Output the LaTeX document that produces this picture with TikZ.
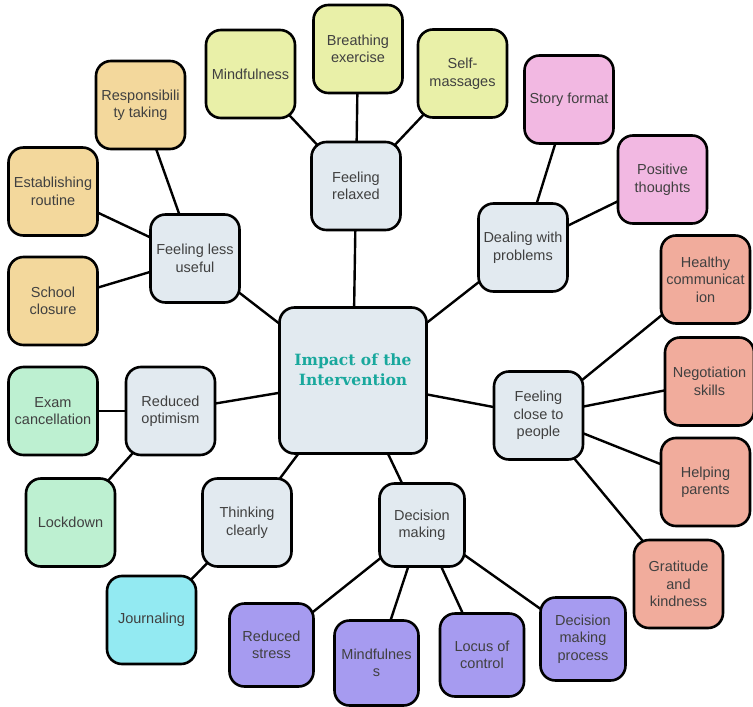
\documentclass[tikz,border=0pt]{standalone}
\usepackage{fontspec}
\setmainfont{Liberation Sans}
\newfontfamily\titlefont{DejaVu Serif}
\usetikzlibrary{backgrounds}
\definecolor{cblue}{HTML}{E2EAF0}
\definecolor{cyel}{HTML}{E9F0A8}
\definecolor{ctan}{HTML}{F3D89C}
\definecolor{cpink}{HTML}{F2B8E2}
\definecolor{csal}{HTML}{F1AC9C}
\definecolor{cgreen}{HTML}{BDF0D1}
\definecolor{ccyan}{HTML}{93EAF2}
\definecolor{cpurp}{HTML}{A69BF0}
\definecolor{cteal}{HTML}{19A89D}
\definecolor{ctext}{HTML}{404040}
\tikzset{
  box/.style={draw=black, line width=2.6pt, rounded corners=15pt,
    minimum width=89pt, minimum height=88pt, inner sep=2pt, align=center,
    text=ctext, font=\fontsize{14.5pt}{17.5pt}\selectfont},
  hub/.style={box, fill=cblue},
  link/.style={draw=black, line width=2.4pt}
}
\begin{document}
\begin{tikzpicture}[x=1pt,y=-1pt]
\useasboundingbox (0,0) rectangle (753,707);
% central
\node[box, fill=cblue, minimum width=147pt, minimum height=146pt] (c) at (353,380.5) {};
\node[text=cteal, font=\titlefont\bfseries\fontsize{15.5pt}{20pt}\selectfont, align=center] (ct) at (353,370) {Impact of the\\Intervention};
% hubs
\node[hub] (relax) at (356,186) {Feeling\\relaxed};
\node[hub] (useless) at (195,258.5) {Feeling less\\useful};
\node[hub] (deal) at (523,247.5) {Dealing with\\problems};
\node[hub] (close) at (538.5,415.5) {Feeling\\close to\\people};
\node[hub] (opt) at (170.5,411) {Reduced\\optimism};
\node[hub] (think) at (247,522.5) {Thinking\\clearly};
\node[hub, minimum width=85pt, minimum height=83pt] (dec) at (422,525) {Decision\\making};
% relaxed children
\node[box, fill=cyel] (mind1) at (250.5,74) {Mindfulness};
\node[box, fill=cyel] (breath) at (358,49) {Breathing\\exercise};
\node[box, fill=cyel] (self) at (462.5,73.5) {Self-\\massages};
% useless children
\node[box, fill=ctan] (resp) at (140.5,105) {Responsibili\\ty taking};
\node[box, fill=ctan] (routine) at (53,191.5) {Establishing\\routine};
\node[box, fill=ctan] (school) at (53,301) {School\\closure};
% deal children
\node[box, fill=cpink] (story) at (569,99.5) {Story format};
\node[box, fill=cpink] (pos) at (662.5,179.5) {Positive\\thoughts};
% close children
\node[box, fill=csal] (health) at (705.5,279.5) {Healthy\\communicat\\ion};
\node[box, fill=csal] (nego) at (709.5,381.5) {Negotiation\\skills};
\node[box, fill=csal] (help) at (705.5,482) {Helping\\parents};
\node[box, fill=csal] (grat) at (678.5,584) {Gratitude\\and\\kindness};
% optimism children
\node[box, fill=cgreen] (exam) at (53,411) {Exam\\cancellation};
\node[box, fill=cgreen] (lock) at (70.5,522.5) {Lockdown};
% thinking child
\node[box, fill=ccyan] (journ) at (151.5,620) {Journaling};
% decision children
\node[box, fill=cpurp, minimum width=84pt, minimum height=83pt] (rstress) at (271.5,645) {Reduced\\stress};
\node[box, fill=cpurp, minimum width=84pt, minimum height=85pt] (mind2) at (376.5,663) {Mindfulnes\\s};
\node[box, fill=cpurp, minimum width=84pt, minimum height=83pt] (locus) at (482,655) {Locus of\\control};
\node[box, fill=cpurp, minimum width=85pt, minimum height=83pt] (dmp) at (583,639) {Decision\\making\\process};
\begin{scope}[on background layer]
\foreach \a/\b in {c/relax,c/useless,c/deal,c/close,c/opt,c/think,c/dec,
  relax/mind1,relax/breath,relax/self,
  useless/resp,useless/routine,useless/school,
  deal/story,deal/pos,
  close/health,close/nego,close/help,close/grat,
  opt/exam,opt/lock,think/journ,
  dec/rstress,dec/mind2,dec/locus,dec/dmp}
  \draw[link] (\a.center) -- (\b.center);
\end{scope}
\end{tikzpicture}
\end{document}
